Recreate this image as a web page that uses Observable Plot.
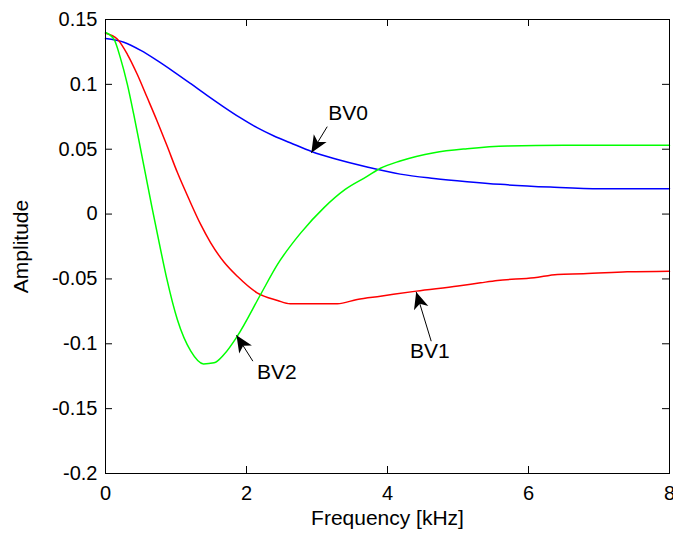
<!DOCTYPE html>
<html>
<head>
<meta charset="utf-8">
<script src="https://cdn.jsdelivr.net/npm/d3@7"></script>
<script src="https://cdn.jsdelivr.net/npm/@observablehq/plot@0.6"></script>
<style>
  html, body { margin: 0; padding: 0; background: #fff; overflow: hidden; }
  #chart svg { display: block; }
</style>
</head>
<body>
<div id="chart"></div>
<script>
// ---- data ----
const bv0X = [0, 0.26, 0.5, 0.73, 0.97, 1.21, 1.44, 1.68, 1.91, 2.15, 2.39, 2.62, 2.93, 3.24, 3.71, 4.18, 4.66, 5.13, 5.6, 6.31, 7.02, 8];
const bv0Y = [0.1353, 0.1325, 0.1262, 0.1185, 0.1097, 0.1005, 0.0915, 0.0825, 0.0743, 0.0666, 0.0602, 0.055, 0.0481, 0.0428, 0.0363, 0.0308, 0.0275, 0.025, 0.0229, 0.0208, 0.0195, 0.0195];

const bv1X = [0, 0.17, 0.31, 0.45, 0.59, 0.73, 0.87, 1.02, 1.18, 1.35, 1.49, 1.68, 1.87, 2.15, 2.44, 2.62, 3.29, 3.57, 3.9, 4.41, 5.0, 5.32, 5.56, 6.08, 6.41, 6.78, 7.4, 8];
const bv1Y = [0.1394, 0.1348, 0.1232, 0.1078, 0.090, 0.072, 0.053, 0.032, 0.012, -0.008, -0.022, -0.037, -0.048, -0.0607, -0.0666, -0.0692, -0.0692, -0.0658, -0.0633, -0.0594, -0.0555, -0.053, -0.0512, -0.0491, -0.0465, -0.046, -0.0445, -0.044];

const bv2X = [0, 0.12, 0.21, 0.31, 0.40, 0.50, 0.57, 0.66, 0.78, 0.87, 1.02, 1.21, 1.39, 1.54, 1.68, 1.87, 2.20, 2.44, 2.77, 3.10, 3.40, 3.71, 3.90, 4.18, 4.66, 5.13, 5.70, 6.5, 8];
const bv2Y = [0.140, 0.1348, 0.1206, 0.100, 0.077, 0.0495, 0.030, 0.005, -0.027, -0.050, -0.0815, -0.1057, -0.1155, -0.1147, -0.1083, -0.0941, -0.062, -0.0388, -0.0145, 0.005, 0.019, 0.029, 0.0353, 0.0409, 0.0473, 0.0504, 0.0525, 0.053, 0.053];

const seriesNames = ["BV0", "BV1", "BV2"];
const seriesColors = ["#0000ff", "#ff0000", "#00ff00"];

const xTicks = [0, 2, 4, 6, 8];
const xTickLabels = ["0", "2", "4", "6", "8"];
const yTicks = [-0.2, -0.15, -0.1, -0.05, 0, 0.05, 0.1, 0.15];
const yTickLabels = ["-0.2", "-0.15", "-0.1", "-0.05", "0", "0.05", "0.1", "0.15"];

const xLabel = "Frequency [kHz]";
const yLabel = "Amplitude";

const annotLabels = ["BV0", "BV1", "BV2"];
const annotTextX = [3.44, 4.6, 2.43];
const annotTextY = [0.0779, -0.1061, -0.1223];
const arrowTailX = [3.145, 4.62, 2.09];
const arrowTailY = [0.0674, -0.098, -0.1134];
const arrowTipX = [2.92, 4.407, 1.858];
const arrowTipY = [0.0473, -0.060, -0.0934];

// ---- build tables ----
const rows = [];
[[bv0X, bv0Y], [bv1X, bv1Y], [bv2X, bv2Y]].forEach(([xs, ys], s) => {
  xs.forEach((x, i) => rows.push({series: seriesNames[s], x, y: ys[i]}));
});
const annots = annotLabels.map((label, i) => ({
  label, tx: annotTextX[i], ty: annotTextY[i],
  x1: arrowTailX[i], y1: arrowTailY[i], x2: arrowTipX[i], y2: arrowTipY[i]
}));

// ---- layout ----
const W = 673, H = 533;
const mL = 105, mR = 4, mT = 19, mB = 60;
const plotW = W - mL - mR, plotH = H - mT - mB;
const tickLen = 7;
const font = "'Liberation Sans', Arial, Helvetica, sans-serif";

const chart = Plot.plot({
  width: W,
  height: H,
  marginLeft: mL,
  marginRight: mR,
  marginTop: mT,
  marginBottom: mB,
  style: {fontFamily: font, background: "#fff", color: "#000"},
  x: {domain: [0, 8]},
  y: {domain: [-0.2, 0.15]},
  color: {domain: seriesNames, range: seriesColors},
  marks: [
    // inward ticks on all four sides
    Plot.ruleX(xTicks, {x: d => d, insetTop: plotH - tickLen, stroke: "#000", strokeWidth: 1}),
    Plot.ruleX(xTicks, {x: d => d, insetBottom: plotH - tickLen, stroke: "#000", strokeWidth: 1}),
    Plot.ruleY(yTicks, {y: d => d, insetRight: plotW - tickLen, stroke: "#000", strokeWidth: 1}),
    Plot.ruleY(yTicks, {y: d => d, insetLeft: plotW - tickLen, stroke: "#000", strokeWidth: 1}),
    Plot.axisX({ticks: xTicks, tickSize: 0, tickPadding: 12, fontSize: 20, label: null,
      tickFormat: d => xTickLabels[xTicks.indexOf(d)]}),
    Plot.axisY({ticks: yTicks, tickSize: 0, tickPadding: 8, fontSize: 20, label: null,
      tickFormat: d => yTickLabels[yTicks.indexOf(d)]}),
    Plot.line(rows, {x: "x", y: "y", z: "series", stroke: "series", strokeWidth: 1.5, curve: "monotone-x"}),
    Plot.frame({stroke: "#000", strokeWidth: 1}),
    // annotation arrows
    Plot.link(annots, {
      x1: "x1", y1: "y1", x2: "x2", y2: "y2", stroke: "#000", strokeWidth: 1,
      render(index, scales, values, dimensions, context, next) {
        const g = next(index, scales, values, dimensions, context);
        const ns = "http://www.w3.org/2000/svg";
        const L = 17, HW = 7.5, notch = 4.5;
        for (const i of index) {
          const sx = values.x1[i], sy = values.y1[i], tx = values.x2[i], ty = values.y2[i];
          const dx = tx - sx, dy = ty - sy, len = Math.hypot(dx, dy);
          const ux = dx / len, uy = dy / len, nx = -uy, ny = ux;
          const bx = tx - L * ux, by = ty - L * uy;
          const mx = tx - (L - notch) * ux, my = ty - (L - notch) * uy;
          const p = document.createElementNS(ns, "path");
          p.setAttribute("d",
            `M${tx},${ty}L${bx + HW * nx},${by + HW * ny}L${mx},${my}L${bx - HW * nx},${by - HW * ny}Z`);
          p.setAttribute("fill", "#000");
          p.setAttribute("stroke", "none");
          g.appendChild(p);
        }
        return g;
      }
    }),
    Plot.text(annots, {x: "tx", y: "ty", text: "label", fontSize: 21, textAnchor: "middle", lineAnchor: "middle", fill: "#000"}),
    // axis titles
    Plot.text([xLabel], {frameAnchor: "bottom", dy: 45, fontSize: 21, lineAnchor: "middle", textAnchor: "middle", fill: "#000"}),
    Plot.text([yLabel], {frameAnchor: "left", dx: -84, rotate: -90, fontSize: 21, lineAnchor: "middle", textAnchor: "middle", fill: "#000"})
  ]
});
document.getElementById("chart").appendChild(chart);
</script>
</body>
</html>
